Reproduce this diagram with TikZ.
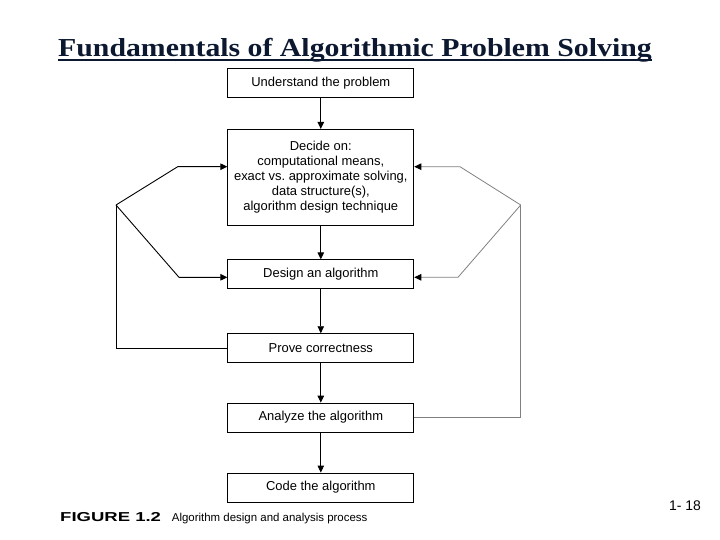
\documentclass[tikz,border=0pt]{standalone}
\usepackage{fontspec}
\setmainfont{Liberation Sans}
\newfontfamily\titlefont{Liberation Serif}
\usepackage{graphicx}
\usetikzlibrary{positioning, arrows.meta}

\definecolor{titlenavy}{RGB}{12,24,48}

\begin{document}
\begin{tikzpicture}[x=1bp, y=-1bp, >={Triangle[length=7bp, width=6.5bp]}]

\tikzset{
  block/.style={
    rectangle, draw, line width=0.9bp, align=center,
    minimum height=29bp, minimum width=186bp,
    inner sep=2pt, font=\fontsize{13}{15}\selectfont
  },
  arrow/.style={->, line width=0.9bp},
  line/.style={line width=0.9bp},
  grayline/.style={line width=0.8bp, draw=gray},
  grayarrow/.style={-{Triangle[length=7bp, width=6.5bp, color=black]}, line width=0.8bp, draw=gray}
}

\useasboundingbox (0,0) rectangle (720,540);

% ==========================
% Title
% ==========================
\node[anchor=base, inner sep=0pt, text=titlenavy,
      font=\titlefont\bfseries\fontsize{26}{30}\selectfont] (ttl) at (355,56.7)
  {\scalebox{1.15}[1]{Fundamentals of Algorithmic Problem Solving}};
\draw[titlenavy, line width=1.6bp] ([yshift=-3.5bp]ttl.base west) -- ([yshift=-3.5bp]ttl.base east);

% ==========================
% Main column
% ==========================
\node[block] (und) at (320.8,83) {Understand the problem};
\node[block, minimum height=96bp, below=31bp of und] (dec)
  {Decide on:\\computational means,\\exact vs.\ approximate solving,\\data structure(s),\\algorithm design technique};
\node[block, below=33.5bp of dec] (des) {Design an algorithm};
\node[block, below=44bp of des] (prv) {Prove correctness};
\node[block, below=39.5bp of prv] (ana) {Analyze the algorithm};
\node[block, below=40bp of ana] (cod) {Code the algorithm};

\draw[arrow] (und) -- (dec);
\draw[arrow] (dec) -- (des);
\draw[arrow] (des) -- (prv);
\draw[arrow] (prv) -- (ana);
\draw[arrow] (ana) -- (cod);

% ==========================
% Feedback loops
% ==========================
\coordinate (lb) at (116,205);
\coordinate (lt) at (177.7,166.7);
\coordinate (ll) at (179,277.3);
\coordinate (rb) at (520.7,205);
\coordinate (rt) at (460,166.7);
\coordinate (rl) at (458,277.3);

\draw[line] (prv.west) -| (lb);
\draw[arrow] (lb) -- (lt) -- (lt -| dec.west);
\draw[arrow] (lb) -- (ll) -- (ll -| des.west);

\draw[grayline] (ana.east) -| (rb);
\draw[grayarrow] (rb) -- (rt) -- (rt -| dec.east);
\draw[grayarrow] (rb) -- (rl) -- (rl -| des.east);

% ==========================
% Caption and page number
% ==========================
\node[anchor=base west, inner sep=0pt, font=\bfseries\fontsize{13}{15}\selectfont] (figlbl) at (60,521)
  {\scalebox{1.43}[1]{FIGURE 1.2}};
\node[anchor=base west, inner sep=0pt, font=\fontsize{11.5}{14}\selectfont] (figtxt) at (171.7,521)
  {Algorithm design and analysis process};
\node[anchor=base east, inner sep=0pt, font=\fontsize{14}{16}\selectfont] (pgnum) at (701,510) {1- 18};

\end{tikzpicture}
\end{document}
